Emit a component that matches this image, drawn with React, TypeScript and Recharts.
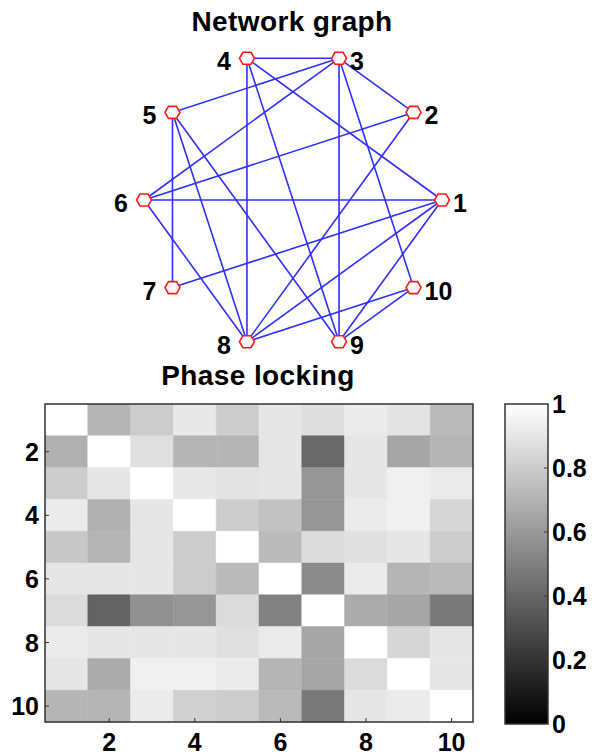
import React from 'react';
import { ScatterChart, Scatter, XAxis, YAxis, BarChart, Bar, Cell, ReferenceArea } from 'recharts';

// ---------- data ----------
const nodeIds = [1, 2, 3, 4, 5, 6, 7, 8, 9, 10];
const edges: [number, number][] = [
  [1, 4], [1, 6], [1, 7], [1, 8], [1, 9],
  [2, 3], [2, 6], [2, 8],
  [3, 4], [3, 5], [3, 6], [3, 9], [3, 10],
  [4, 8], [4, 9],
  [5, 7], [5, 8], [5, 9],
  [6, 8],
  [8, 10], [9, 10],
];
const rowIds = [1, 2, 3, 4, 5, 6, 7, 8, 9, 10];
const phaseLocking: number[][] = [
  [1.0, 0.71, 0.8, 0.91, 0.8, 0.9, 0.87, 0.92, 0.89, 0.73],
  [0.69, 1.0, 0.88, 0.71, 0.71, 0.9, 0.41, 0.9, 0.65, 0.71],
  [0.8, 0.9, 1.0, 0.91, 0.89, 0.9, 0.59, 0.9, 0.94, 0.92],
  [0.92, 0.69, 0.9, 1.0, 0.8, 0.76, 0.59, 0.92, 0.94, 0.84],
  [0.78, 0.71, 0.9, 0.8, 1.0, 0.73, 0.86, 0.88, 0.9, 0.8],
  [0.9, 0.9, 0.9, 0.8, 0.73, 1.0, 0.55, 0.92, 0.71, 0.73],
  [0.86, 0.39, 0.57, 0.59, 0.86, 0.51, 1.0, 0.67, 0.65, 0.47],
  [0.92, 0.9, 0.9, 0.9, 0.88, 0.92, 0.65, 1.0, 0.84, 0.9],
  [0.9, 0.67, 0.94, 0.94, 0.92, 0.71, 0.65, 0.86, 1.0, 0.9],
  [0.71, 0.71, 0.92, 0.82, 0.8, 0.73, 0.47, 0.9, 0.92, 1.0],
];
const axisTicks = [2, 4, 6, 8, 10];
const colorbarTicks = [0, 0.2, 0.4, 0.6, 0.8, 1];

// ---------- styles ----------
const FONT = '"Liberation Sans", Arial, sans-serif';
const TICK_FS = 25;
const EDGE_COLOR = '#2f2ff5';
const NODE_COLOR = '#ff1a1a';
const FRAME = '#333333';

// circular layout of the nodes
const nodePos = nodeIds.map((id) => {
  const a = ((id - 1) * 2 * Math.PI) / nodeIds.length;
  return { id, x: Math.cos(a), y: Math.sin(a) };
});
const posOf = (id: number) => nodePos.find((n) => n.id === id)!;

const gray = (v: number) => {
  const g = Math.round(Math.max(0, Math.min(1, v)) * 255);
  return `rgb(${g},${g},${g})`;
};

const heatRows = rowIds.map((r, i) => {
  const o: any = { row: r, base: 0.5 };
  phaseLocking[i].forEach((_, j) => (o[`c${j + 1}`] = 1));
  return o;
});

const NodeShape = (props: any) => {
  const { cx, cy, payload } = props;
  if (cx == null || cy == null) return <g />;
  const right = payload.x > 0.01;
  const pts = [
    [-7.5, 0], [-4, -6], [4, -6], [7.5, 0], [4, 6], [-4, 6],
  ].map(([px, py]) => `${cx + px},${cy + py}`).join(' ');
  return (
    <g>
      <polygon points={pts} fill="#ffffff" stroke={NODE_COLOR} strokeWidth={1.6} />
      <text
        x={right ? cx + 11 : cx - 16}
        y={cy + 3}
        dy="0.36em"
        textAnchor={right ? 'start' : 'end'}
        fontFamily={FONT}
        fontWeight="bold"
        fontSize={TICK_FS}
        fill="#000"
      >
        {payload.id}
      </text>
    </g>
  );
};

const EmptyShape = () => <g />;

// labels (heat map chart)
const LeftLabel = (props: any) => {
  const { x, y, payload } = props;
  const v = payload.value;
  if (v % 2 !== 0) return <g />;
  return (
    <text x={x} y={y} dy="0.36em" textAnchor="end" fontFamily={FONT} fontWeight="bold" fontSize={TICK_FS} fill="#000">
      {v}
    </text>
  );
};
const BottomLabel = (props: any) => {
  const { x, y, payload } = props;
  return (
    <text x={x} y={y} dy="0.72em" textAnchor="middle" fontFamily={FONT} fontWeight="bold" fontSize={TICK_FS} fill="#000">
      {payload.value}
    </text>
  );
};

// inward tick marks for the overlay frame chart (tickSize 0, tickMargin 0 => x,y on the axis line)
const LeftMark = (props: any) => {
  const { x, y } = props;
  return <line x1={x} y1={y} x2={x + 4} y2={y} stroke={FRAME} strokeWidth={1} />;
};
const RightMark = (props: any) => {
  const { x, y } = props;
  return <line x1={x} y1={y} x2={x - 4} y2={y} stroke={FRAME} strokeWidth={1} />;
};
const BottomMark = (props: any) => {
  const { x, y } = props;
  return <line x1={x} y1={y} x2={x} y2={y - 4} stroke={FRAME} strokeWidth={1} />;
};
const TopMark = (props: any) => {
  const { x, y } = props;
  return <line x1={x} y1={y} x2={x} y2={y + 4} stroke={FRAME} strokeWidth={1} />;
};

const CbRightTick = (props: any) => {
  const { x, y, payload } = props;
  const v = payload.value;
  const ax = x - 4;
  return (
    <g>
      {v > 0 && v < 1 ? <line x1={ax} y1={y} x2={ax - 4} y2={y} stroke={FRAME} strokeWidth={1} /> : null}
      <text x={x} y={y} dy="0.36em" textAnchor="start" fontFamily={FONT} fontWeight="bold" fontSize={TICK_FS} fill="#000">
        {String(v)}
      </text>
    </g>
  );
};

const CbLeftTick = (props: any) => {
  const { x, y, payload } = props;
  const v = payload.value;
  if (v <= 0 || v >= 1) return <g />;
  return <line x1={x} y1={y} x2={x + 4} y2={y} stroke={FRAME} strokeWidth={1} />;
};

const titleStyle: React.CSSProperties = {
  position: 'absolute',
  fontFamily: FONT,
  fontWeight: 'bold',
  fontSize: 28,
  letterSpacing: 0.4,
  color: '#000',
  whiteSpace: 'nowrap',
  transform: 'translateX(-50%)',
  lineHeight: 1,
};

const HEAT_MARGIN = { top: 24, right: 17, bottom: 8, left: 5 };
const HEAT_DOMAIN: [number, number] = [0.5, 10.5];

export default function App() {
  return (
    <div style={{ position: 'absolute', left: 0, top: 0, width: 597, height: 755, background: '#fff', overflow: 'hidden' }}>
      <div style={{ ...titleStyle, left: 292, top: 8 }}>Network graph</div>
      <div style={{ ...titleStyle, left: 258, top: 362 }}>Phase locking</div>

      {/* network graph */}
      <div style={{ position: 'absolute', left: 0, top: 0 }}>
        <ScatterChart width={597} height={380} margin={{ top: 30, right: 134, bottom: 10, left: 123 }}>
          <XAxis type="number" dataKey="x" domain={[-1.141, 1.141]} hide />
          <YAxis type="number" dataKey="y" domain={[-1.141, 1.141]} hide />
          {edges.map(([a, b], k) => (
            <Scatter
              key={`e${k}`}
              data={[posOf(a), posOf(b)]}
              line={{ stroke: EDGE_COLOR, strokeWidth: 1.6 }}
              shape={EmptyShape}
              isAnimationActive={false}
            />
          ))}
          <Scatter data={nodePos} shape={NodeShape} isAnimationActive={false} />
        </ScatterChart>
      </div>

      {/* heat map */}
      <div style={{ position: 'absolute', left: 0, top: 380 }}>
        <BarChart
          width={490}
          height={375}
          data={heatRows}
          layout="vertical"
          barCategoryGap={0}
          barGap={0}
          margin={HEAT_MARGIN}
        >
          <XAxis
            type="number"
            domain={HEAT_DOMAIN}
            ticks={axisTicks}
            allowDataOverflow
            height={25}
            tickSize={0}
            tickMargin={11}
            tick={BottomLabel}
            axisLine={false}
            tickLine={false}
          />
          <YAxis
            type="category"
            dataKey="row"
            width={40}
            tickSize={0}
            tickMargin={6}
            tick={LeftLabel}
            interval={0}
            axisLine={false}
            tickLine={false}
          />
          <Bar dataKey="base" stackId="h" fill="transparent" isAnimationActive={false} />
          {phaseLocking[0].map((_, j) => (
            <Bar key={`c${j}`} dataKey={`c${j + 1}`} stackId="h" isAnimationActive={false}>
              {heatRows.map((_r, i) => (
                <Cell key={i} fill={gray(phaseLocking[i][j])} stroke={gray(phaseLocking[i][j])} strokeWidth={0.5} />
              ))}
            </Bar>
          ))}
        </BarChart>
      </div>

      {/* frame + inward tick marks drawn on top of the heat map */}
      <div style={{ position: 'absolute', left: 0, top: 380 }}>
        <ScatterChart width={490} height={375} margin={HEAT_MARGIN}>
          <XAxis xAxisId="b" type="number" dataKey="x" domain={HEAT_DOMAIN} ticks={axisTicks} height={25} tickSize={0} tickMargin={0} tick={BottomMark} axisLine={false} tickLine={false} />
          <XAxis xAxisId="t" orientation="top" type="number" dataKey="x" domain={HEAT_DOMAIN} ticks={axisTicks} height={0} tickSize={0} tickMargin={0} tick={TopMark} axisLine={false} tickLine={false} />
          <YAxis yAxisId="l" type="number" dataKey="y" reversed domain={HEAT_DOMAIN} ticks={axisTicks} width={40} tickSize={0} tickMargin={0} tick={LeftMark} axisLine={false} tickLine={false} />
          <YAxis yAxisId="r" orientation="right" type="number" dataKey="y" reversed domain={HEAT_DOMAIN} ticks={axisTicks} width={0} tickSize={0} tickMargin={0} tick={RightMark} axisLine={false} tickLine={false} />
          <Scatter xAxisId="b" yAxisId="l" data={[{ x: 1, y: 1 }]} shape={EmptyShape} isAnimationActive={false} />
          <ReferenceArea
            xAxisId="b"
            yAxisId="l"
            x1={HEAT_DOMAIN[0]}
            x2={HEAT_DOMAIN[1]}
            y1={HEAT_DOMAIN[0]}
            y2={HEAT_DOMAIN[1]}
            fill="none"
            fillOpacity={0}
            stroke={FRAME}
            strokeWidth={1.5}
            ifOverflow="visible"
          />
        </ScatterChart>
      </div>

      {/* colour bar */}
      <div style={{ position: 'absolute', left: 490, top: 380 }}>
        <BarChart
          width={107}
          height={375}
          data={[{ name: 'cb', v: 1 }]}
          barCategoryGap={0}
          margin={{ top: 24, right: 4, bottom: 31, left: 15 }}
        >
          <defs>
            <linearGradient id="cbGrad" x1="0" y1="0" x2="0" y2="1">
              <stop offset="0%" stopColor="#ffffff" />
              <stop offset="100%" stopColor="#000000" />
            </linearGradient>
          </defs>
          <XAxis dataKey="name" hide />
          <Bar dataKey="v" yAxisId="right" fill="url(#cbGrad)" stroke={FRAME} strokeWidth={1.5} isAnimationActive={false} />
          <YAxis
            yAxisId="left"
            orientation="left"
            type="number"
            domain={[0, 1]}
            ticks={colorbarTicks}
            width={0}
            tickSize={0}
            tickMargin={0}
            tick={CbLeftTick}
            axisLine={false}
            tickLine={false}
          />
          <YAxis
            yAxisId="right"
            orientation="right"
            type="number"
            domain={[0, 1]}
            ticks={colorbarTicks}
            width={45}
            tickSize={0}
            tickMargin={4}
            tick={CbRightTick}
            axisLine={false}
            tickLine={false}
          />
        </BarChart>
      </div>
    </div>
  );
}
